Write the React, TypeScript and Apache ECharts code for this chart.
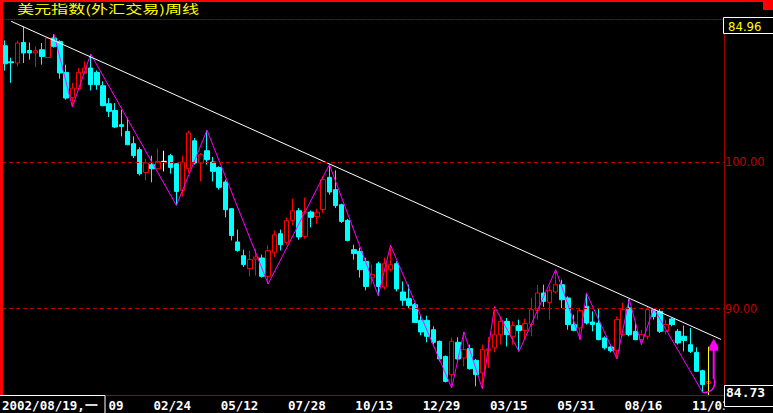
import React, { useEffect, useRef } from 'react';
import * as echarts from 'echarts';

const startDate = '2002-08-19';
const categoryCount = 118; // 116 weekly candles + 2 empty slots on the right
const tickLabels = ['12/09', '02/24', '05/12', '07/28', '10/13', '12/29', '03/15', '05/31', '08/16', '11/01'];

const opens = [
  107.94, 106.85, 106.76, 108.17, 107.62, 107.45, 107.67, 107.14, 108.47, 108.24,
  106.12, 104.41, 104.99, 106.08, 106.42, 106.12, 105.21, 103.98, 103.52, 102.55,
  102.09, 101.25, 100.84, 99.29, 99.82, 99.54, 100.04, 100.43, 99.88, 98.06,
  99.54, 101.45, 99.93, 100.77, 100.0, 99.63, 98.63, 96.81, 94.54, 93.6,
  92.71, 93.37, 93.44, 92.19, 93.83, 95.1, 94.51, 96.01, 96.67, 94.92,
  96.58, 96.28, 96.76, 98.95, 98.11, 97.08, 96.01, 94.01, 93.89, 93.21,
  92.08, 93.05, 91.46, 92.64, 93.05, 91.12, 90.66, 90.25, 89.18, 89.18,
  88.54, 87.75, 86.72, 85.47, 87.68, 86.61, 87.25, 86.45, 85.59, 87.13,
  87.3, 88.2, 89.11, 88.09, 88.82, 88.48, 88.9, 89.86, 91.05, 90.41,
  91.12, 91.62, 90.71, 88.89, 88.66, 90.14, 89.07, 89.0, 87.98, 87.36,
  87.11, 88.2, 90.03, 88.43, 87.86, 88.09, 89.91, 89.8, 88.43, 89.28,
  88.43, 88.09, 87.52, 86.99, 85.74, 84.87,
];
const closes = [
  106.71, 106.78, 108.13, 107.45, 107.45, 107.6, 107.21, 108.47, 107.9, 106.08,
  104.37, 105.05, 106.12, 106.42, 105.28, 105.28, 103.85, 103.46, 102.39, 102.43,
  101.18, 100.43, 99.2, 99.93, 99.54, 100.04, 100.04, 99.63, 97.99, 100.0,
  101.98, 99.93, 100.5, 100.16, 99.36, 98.27, 96.74, 94.97, 93.96, 92.99,
  93.33, 93.51, 92.19, 93.94, 95.03, 94.35, 95.99, 96.67, 94.88, 96.58,
  96.22, 96.57, 98.79, 97.95, 97.02, 95.94, 94.64, 93.74, 92.64, 91.5,
  92.32, 91.5, 93.05, 92.99, 91.33, 90.55, 90.2, 89.04, 88.39, 88.09,
  87.68, 86.54, 85.01, 87.75, 86.54, 87.18, 85.88, 85.47, 87.18, 87.23,
  88.2, 89.11, 88.2, 88.82, 88.48, 88.96, 89.91, 91.05, 90.48, 91.23,
  91.62, 90.59, 88.89, 88.5, 89.86, 89.0, 88.89, 87.86, 87.3, 87.11,
  89.23, 89.91, 88.2, 87.86, 88.2, 89.91, 89.45, 88.43, 88.89, 88.89,
  87.64, 87.81, 87.06, 85.7, 84.79, 85.01,
];
const lows = [
  106.24, 105.41, 106.53, 106.76, 106.99, 106.49, 106.65, 107.1, 107.81, 105.69,
  104.26, 103.76, 104.94, 106.05, 104.89, 104.94, 103.8, 103.07, 102.32, 101.75,
  101.15, 100.27, 99.08, 98.74, 98.61, 99.52, 99.36, 99.2, 97.04, 97.65,
  99.25, 99.82, 98.67, 99.82, 98.67, 98.11, 96.22, 94.64, 93.87, 92.83,
  92.19, 92.23, 92.1, 91.67, 93.51, 93.96, 94.35, 95.67, 94.69, 94.76,
  95.53, 95.79, 96.52, 97.77, 96.86, 95.83, 94.58, 93.33, 92.1, 91.23,
  91.62, 90.87, 91.28, 92.51, 91.16, 90.18, 89.98, 89.0, 88.16, 87.68,
  87.52, 86.38, 84.94, 84.56, 86.31, 86.04, 85.81, 84.67, 84.51, 85.93,
  86.99, 87.52, 87.4, 87.52, 87.06, 87.86, 88.09, 89.23, 90.1, 89.23,
  91.0, 90.03, 88.54, 88.43, 87.86, 88.89, 88.43, 87.82, 87.18, 86.99,
  86.54, 88.09, 88.09, 87.82, 87.52, 87.86, 89.23, 88.32, 88.2, 88.77,
  87.52, 87.06, 86.95, 85.67, 84.26, 84.73,
];
const highs = [
  108.31, 107.12, 108.29, 109.26, 108.17, 107.9, 108.13, 108.51, 108.73, 108.31,
  106.65, 105.4, 106.42, 106.87, 107.38, 106.26, 105.51, 104.37, 104.03, 103.57,
  103.01, 101.75, 101.0, 100.2, 100.43, 100.91, 100.77, 100.55, 99.93, 100.43,
  102.14, 101.64, 100.61, 102.17, 100.34, 99.7, 98.79, 96.86, 95.38, 94.01,
  93.94, 94.08, 93.67, 94.3, 95.31, 95.38, 96.22, 97.49, 96.86, 97.58,
  96.69, 96.81, 99.02, 99.82, 99.43, 97.15, 96.11, 94.35, 94.15, 93.46,
  92.99, 93.19, 93.46, 94.3, 93.21, 91.84, 91.62, 90.37, 89.5, 89.5,
  88.77, 87.79, 86.77, 88.0, 88.02, 88.39, 87.52, 86.54, 87.52, 88.05,
  90.12, 89.45, 89.34, 89.11, 89.23, 89.28, 90.71, 91.62, 91.62, 91.5,
  92.64, 91.96, 90.82, 89.57, 89.96, 91.05, 89.8, 89.96, 88.09, 87.52,
  89.45, 90.37, 90.63, 89.0, 88.54, 90.1, 90.0, 89.96, 89.23, 89.34,
  88.59, 88.82, 88.66, 87.34, 85.81, 85.14,
];
const dojiIndex = [26];

// zigzag turning points: alternating high / low, starting with a high
const zigzagIndex = [8, 11, 14, 28, 33, 43, 53, 61, 63, 73, 75, 78, 80, 84, 90, 94, 95, 100, 102, 104, 106, 114];

// trend line through the falling highs
const trendIndex = [1, 117];
const trendValue = [109.61, 87.88];

// cursor line and rebound arrow at the last week
const cursorIndex = 115;
const cursorRange = [87.38, 84.08];
const arrowLevels = [85.16, 87.18, 87.93]; // hook end, head base, tip

const yMin = 84.08;
const yMax = 109.77;
const refLevels = [100, 90];

const topValueText = '84.96';
const lastValueText = '84.73';
const firstDateText = '2002/08/19,一';
const titleText = '美元指数(外汇交易)周线';

function buildCategories(): string[] {
  const out: string[] = [];
  const t0 = Date.parse(startDate + 'T00:00:00Z');
  for (let i = 0; i < categoryCount; i++) {
    const d = new Date(t0 + i * 7 * 86400000);
    const y = d.getUTCFullYear();
    const m = String(d.getUTCMonth() + 1).padStart(2, '0');
    const dd = String(d.getUTCDate()).padStart(2, '0');
    out.push(`${y}/${m}/${dd}`);
  }
  return out;
}
const mmdd = (s: string) => s.slice(5);

export default function App() {
  const ref = useRef<HTMLDivElement>(null);
  useEffect(() => {
    if (!ref.current) return;
    const chart = echarts.init(ref.current, null, { renderer: 'svg' });
    const categories = buildCategories();
    const tickSet = new Set(tickLabels);

    const candleData: any[] = opens.map((o, i) => {
      const v = [o, closes[i], lows[i], highs[i]];
      if (dojiIndex.includes(i)) {
        return {
          value: v,
          itemStyle: { color: '#ffffff', color0: '#ffffff', borderColor: '#ffffff', borderColor0: '#ffffff' },
        };
      }
      return v;
    });

    const zig: any[] = new Array(categoryCount).fill(null);
    zigzagIndex.forEach((idx, k) => {
      zig[idx] = k % 2 === 0 ? highs[idx] : lows[idx];
    });
    const trend: any[] = new Array(categoryCount).fill(null);
    trendIndex.forEach((idx, k) => (trend[idx] = trendValue[k]));

    const lastZig = zigzagIndex[zigzagIndex.length - 1];
    const hookStartValue = lows[lastZig];

    const labelFont = '"Liberation Sans Narrow", "DejaVu Sans Condensed", "Liberation Sans", sans-serif';
    const monoFont = '"DejaVu Sans Mono", "Liberation Mono", monospace';
    const firstTick = tickLabels[0];

    chart.setOption({
      animation: false,
      backgroundColor: '#000000',
      grid: { left: 2, top: 19, width: 722, height: 376 },
      xAxis: {
        type: 'category',
        data: categories,
        boundaryGap: true,
        axisLine: { show: true, lineStyle: { color: '#a00000', width: 1 } },
        axisTick: { show: false },
        splitLine: { show: false },
        axisLabel: {
          interval: (_i: number, v: string) => tickSet.has(mmdd(v)),
          // the first tick label is partly hidden behind the start-date box: only its day shows
          formatter: (v: string) => (mmdd(v) === firstTick ? `{cut|${mmdd(v).slice(3)}}` : mmdd(v)),
          color: '#ffffff',
          fontFamily: monoFont,
          fontWeight: 'bold',
          fontSize: 12.5,
          margin: 4,
          padding: [0, 0, 0, 4],
          hideOverlap: false,
          rich: {
            cut: {
              color: '#ffffff',
              fontFamily: monoFont,
              fontWeight: 'bold',
              fontSize: 12.5,
              padding: [0, 0, 0, 22],
            },
          },
        },
      },
      yAxis: {
        type: 'value',
        position: 'right',
        min: yMin,
        max: yMax,
        axisLine: { show: true, lineStyle: { color: '#a00000', width: 1 } },
        axisTick: { show: false },
        axisLabel: { show: false },
        splitLine: { show: false },
      },
      series: [
        {
          type: 'candlestick',
          data: candleData,
          barWidth: 5,
          itemStyle: {
            color: '#000000',
            color0: '#00ffff',
            borderColor: '#ff0000',
            borderColor0: '#00ffff',
            borderColorDoji: '#ffffff',
            borderWidth: 1,
          },
          markLine: {
            silent: true,
            symbol: 'none',
            animation: false,
            data: [
              ...refLevels.map((lv) => ({
                yAxis: lv,
                lineStyle: { color: '#c00000', type: [4, 3], width: 1 },
                label: {
                  show: true,
                  position: 'end',
                  distance: 1,
                  formatter: lv.toFixed(2),
                  color: '#c00000',
                  fontFamily: labelFont,
                  fontSize: 12.5,
                },
              })),
              {
                yAxis: yMax,
                lineStyle: { color: '#900000', type: [1, 1], width: 1 },
                label: { show: false },
              },
              [
                {
                  coord: [categories[cursorIndex], cursorRange[0]],
                  lineStyle: { color: '#ffff00', type: 'solid', width: 1 },
                  label: { show: false },
                },
                { coord: [categories[cursorIndex], cursorRange[1]] },
              ],
            ],
          },
          z: 3,
        },
        {
          type: 'line',
          data: zig,
          connectNulls: true,
          symbol: 'none',
          lineStyle: { color: '#ff00ff', width: 1 },
          z: 4,
        },
        {
          type: 'line',
          data: trend,
          connectNulls: true,
          symbol: 'none',
          lineStyle: { color: '#ffffff', width: 1 },
          z: 4,
        },
        {
          type: 'custom',
          data: [[cursorIndex, arrowLevels[0]]],
          clip: false,
          z: 5,
          renderItem: (_p: any, api: any) => {
            const start = api.coord([lastZig, hookStartValue]);
            const at = api.coord([cursorIndex, arrowLevels[0]]);
            const x = at[0] + 5;
            const yBottom = at[1];
            const yBase = api.coord([cursorIndex, arrowLevels[1]])[1];
            const yTip = api.coord([cursorIndex, arrowLevels[2]])[1];
            return {
              type: 'group',
              children: [
                {
                  type: 'bezierCurve',
                  shape: { x1: start[0], y1: start[1], x2: x + 1, y2: yBottom, cpx1: x + 2, cpy1: start[1] + 1 },
                  style: { stroke: '#ff00ff', fill: null, lineWidth: 1.5 },
                },
                {
                  type: 'line',
                  shape: { x1: x, y1: yBottom, x2: x, y2: yBase },
                  style: { stroke: '#ff00ff', lineWidth: 2 },
                },
                {
                  type: 'polygon',
                  shape: {
                    points: [
                      [x, yTip],
                      [x - 4.5, yBase - 3],
                      [x - 4.5, yBase + 1],
                      [x + 4.5, yBase + 1],
                      [x + 4.5, yBase - 3],
                    ],
                  },
                  style: { fill: '#ff00ff' },
                },
              ],
            };
          },
        },
      ],
      graphic: [
        { type: 'rect', z: 100, shape: { x: 0, y: 0, width: 773, height: 2 }, style: { fill: '#ff0000' } },
        { type: 'rect', z: 100, shape: { x: 0, y: 0, width: 3, height: 395 }, style: { fill: '#ff0000' } },
        { type: 'rect', z: 100, shape: { x: 763, y: 0, width: 10, height: 10 }, style: { fill: '#ff0000' } },
        {
          type: 'text',
          z: 100,
          x: 17,
          y: 2,
          scaleX: 1.22,
          scaleY: 0.88,
          style: {
            text: titleText,
            fill: '#ffff00',
            font: '14px "Noto Sans CJK SC", sans-serif',
            verticalAlign: 'top',
          },
        },
        {
          type: 'rect',
          z: 100,
          shape: { x: 723.5, y: 17.5, width: 52, height: 16 },
          style: { fill: '#000000', stroke: '#ffffff', lineWidth: 1 },
        },
        {
          type: 'text',
          z: 101,
          x: 728,
          y: 26,
          style: {
            text: topValueText,
            fill: '#ffff00',
            font: `13px ${labelFont}`,
            verticalAlign: 'middle',
          },
        },
        {
          type: 'rect',
          z: 100,
          shape: { x: -1, y: 395.5, width: 106, height: 20 },
          style: { fill: '#000000', stroke: '#ffffff', lineWidth: 1 },
        },
        {
          type: 'text',
          z: 101,
          x: 2,
          y: 405.5,
          style: {
            text: firstDateText,
            fill: '#ffffff',
            font: `bold 12.5px ${monoFont}`,
            verticalAlign: 'middle',
          },
        },
        // the label strip ends at the right axis: anything past it is hidden
        { type: 'rect', z: 99, shape: { x: 724.5, y: 396, width: 49, height: 17 }, style: { fill: '#000000' } },
        {
          type: 'rect',
          z: 100,
          shape: { x: 724.5, y: 385.5, width: 52, height: 21 },
          style: { fill: '#000000', stroke: '#ffffff', lineWidth: 1 },
        },
        {
          type: 'text',
          z: 101,
          x: 726,
          y: 392.5,
          style: {
            text: lastValueText,
            fill: '#ffffff',
            font: `bold 13px ${monoFont}`,
            verticalAlign: 'middle',
          },
        },
      ],
    });
    return () => chart.dispose();
  }, []);
  return (
    <div
      ref={ref}
      style={{ position: 'fixed', left: 0, top: 0, width: 773, height: 413, background: '#000' }}
    />
  );
}
